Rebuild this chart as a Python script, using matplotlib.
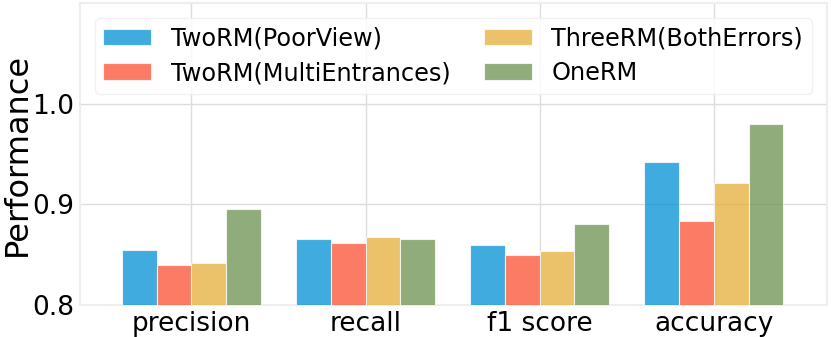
import numpy as np
import matplotlib; matplotlib.use("Agg")
import matplotlib.pyplot as plt

metrics = ["precision", "recall", "f1 score", "accuracy"]
series = ["TwoRM(PoorView)", "TwoRM(MultiEntrances)", "ThreeRM(BothErrors)", "OneRM"]
poor_view = [0.855, 0.866, 0.860, 0.942]
multi_entr = [0.840, 0.862, 0.850, 0.883]
both_errors = [0.842, 0.868, 0.854, 0.921]
one_rm = [0.895, 0.866, 0.880, 0.980]
values = [poor_view, multi_entr, both_errors, one_rm]
colors = ["#008fd5", "#fc4f30", "#e5ae38", "#6d904f"]

fig = plt.figure(figsize=(8.31, 3.37), dpi=100)
ax = fig.add_axes([0.0963, 0.095, 0.8987, 0.896])

x = np.arange(len(metrics))
w = 0.2
for i, (name, vals) in enumerate(zip(series, values)):
    ax.bar(x + (i - 1.5) * w, vals, w, color=colors[i], alpha=0.75,
           edgecolor="white", linewidth=0.8, label=name, zorder=3)

ax.set_ylim(0.8, 1.1)
ax.set_xlim(-0.64, 3.65)
ax.set_yticks([0.8, 0.9, 1.0])
ax.set_xticks(x)
ax.set_xticklabels(metrics)
ax.tick_params(length=0, labelsize=19, pad=4)
ax.set_ylabel("Performance", fontsize=23, labelpad=0)
ax.grid(True, color="#dddddd", lw=1, zorder=0)
for s in ax.spines.values():
    s.set_color("#eeeeee")
    s.set_linewidth(1.5)

ax.legend(ncol=2, fontsize=17.3, loc="upper left", bbox_to_anchor=(0.004, 0.99),
          framealpha=0.8, edgecolor="#eeeeee", columnspacing=1.4, borderpad=0.35,
          labelspacing=0.45)

fig.savefig("out.png", dpi=100)
